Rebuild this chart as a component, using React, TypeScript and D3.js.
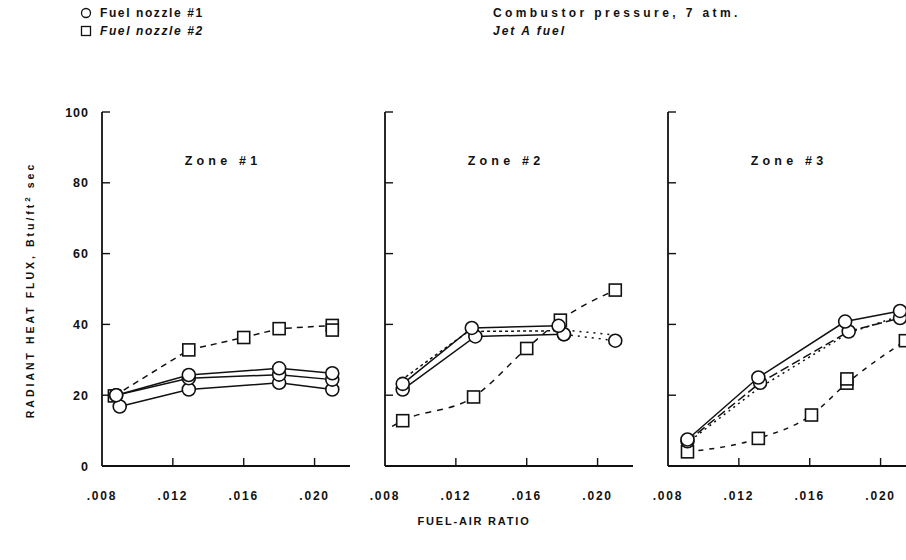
import React from "react";
import * as d3 from "d3";

// axis ticks
const xTicks = [0.008, 0.012, 0.016, 0.02];
const xTickLabels = [".008", ".012", ".016", ".020"];
const yTicks = [0, 20, 40, 60, 80, 100];

// Zone 1 — [fuel-air ratio, radiant heat flux]
const z1NozzleA = [[0.0088, 20], [0.0129, 25.7], [0.018, 27.6], [0.021, 26.2]];
const z1NozzleB = [[0.0088, 20], [0.0129, 24.8], [0.018, 25.8], [0.021, 24.4]];
const z1NozzleC = [[0.009, 16.8], [0.0129, 21.6], [0.018, 23.5], [0.021, 21.6]];
const z1Nozzle2 = [[0.0087, 19.8], [0.0129, 32.8], [0.016, 36.3], [0.018, 38.8], [0.021, 39.7]];
const z1Nozzle2Extra = [[0.021, 38.4]];

// Zone 2
const z2NozzleA = [[0.009, 23.2], [0.0129, 39], [0.0178, 39.6]];
const z2NozzleB = [[0.009, 21.6], [0.0131, 36.6], [0.0181, 37.2]];
const z2NozzleC = [[0.0089, 24.2], [0.0127, 38], [0.0179, 38.2]];
const z2NozzleAExt = [[0.0178, 38.6], [0.021, 37]];
const z2NozzleBExt = [[0.0181, 37.2], [0.021, 35.4]];
const z2Nozzle2 = [[0.0084, 11.2], [0.009, 12.8], [0.013, 19.5], [0.016, 33.2], [0.0179, 41.2], [0.021, 49.7]];

// Zone 3
const z3NozzleA = [[0.0091, 7.5], [0.0131, 25], [0.018, 40.8], [0.0211, 43.8]];
const z3NozzleB = [[0.0091, 7], [0.0132, 23.5], [0.0182, 38], [0.0211, 41.8]];
const z3NozzleC = [[0.009, 6.2], [0.0131, 21.9], [0.0182, 37.6], [0.0211, 42.4]];
const z3Nozzle2 = [[0.0091, 4], [0.0131, 7.8], [0.0161, 14.4], [0.0181, 23.4], [0.0214, 35.4]];
const z3Nozzle2Extra = [[0.0181, 24.6]];

type Pt = number[];
type Series = { pts: Pt[]; dash: string; marker: "circle" | "square" | "none"; curve?: boolean; skipFirst?: boolean };

const zones: { title: string; series: Series[]; extraSquares: Pt[] }[] = [
  {
    title: "Zone #1",
    series: [
      { pts: z1Nozzle2, dash: "6,5", marker: "square" },
      { pts: z1NozzleC, dash: "", marker: "circle" },
      { pts: z1NozzleB, dash: "", marker: "circle" },
      { pts: z1NozzleA, dash: "", marker: "circle" },
    ],
    extraSquares: z1Nozzle2Extra,
  },
  {
    title: "Zone #2",
    series: [
      { pts: z2Nozzle2, dash: "6,6", marker: "square", curve: true, skipFirst: true },
      { pts: z2NozzleAExt, dash: "2,5", marker: "none" },
      { pts: z2NozzleBExt, dash: "2,5", marker: "circle" },
      { pts: z2NozzleC, dash: "3,3", marker: "none" },
      { pts: z2NozzleB, dash: "", marker: "circle" },
      { pts: z2NozzleA, dash: "", marker: "circle" },
    ],
    extraSquares: [],
  },
  {
    title: "Zone #3",
    series: [
      { pts: z3Nozzle2, dash: "5,6", marker: "square", curve: true },
      { pts: z3NozzleC, dash: "2,4", marker: "none" },
      { pts: z3NozzleB, dash: "9,4", marker: "circle" },
      { pts: z3NozzleA, dash: "", marker: "circle" },
    ],
    extraSquares: z3Nozzle2Extra,
  },
];

const panelLeft = [102, 385, 668];
const panelW = 248;
const font = "'Liberation Sans', Arial, sans-serif";

function Marker({ x, y, kind }: { x: number; y: number; kind: string }) {
  if (kind === "circle")
    return <circle cx={x} cy={y} r={6.5} fill="#fff" stroke="#111" strokeWidth={1.6} />;
  if (kind === "square")
    return <rect x={x - 6} y={y - 6} width={12} height={12} fill="#fff" stroke="#111" strokeWidth={1.6} />;
  return null;
}

function Panel({ idx }: { idx: number }) {
  const zone = zones[idx];
  const left = panelLeft[idx];
  const x = d3.scaleLinear().domain([0.008, 0.022]).range([left, left + panelW]);
  const y = d3.scaleLinear().domain([0, 100]).range([466, 112]);
  const lineFor = (s: Series) =>
    d3
      .line<Pt>()
      .x((d) => x(d[0]))
      .y((d) => y(d[1]))
      .curve(s.curve ? d3.curveMonotoneX : d3.curveLinear)(s.pts) || "";
  return (
    <g>
      {/* axes */}
      <line x1={left} x2={left} y1={y(0)} y2={y(100)} stroke="#111" strokeWidth={1.8} />
      <line x1={left} x2={left + panelW} y1={y(0)} y2={y(0)} stroke="#111" strokeWidth={1.8} />
      {yTicks.slice(1).map((t) => (
        <line key={t} x1={left} x2={left + 8} y1={y(t)} y2={y(t)} stroke="#111" strokeWidth={1.4} />
      ))}
      {xTicks.slice(1).map((t) => (
        <line key={t} x1={x(t)} x2={x(t)} y1={y(0)} y2={y(0) - 8} stroke="#111" strokeWidth={1.4} />
      ))}
      {xTicks.map((t, i) => (
        <text key={t} x={x(t)} y={500} textAnchor="middle" fontSize={12} fontWeight="bold" letterSpacing={1.8}>
          {xTickLabels[i]}
        </text>
      ))}
      {idx === 0 &&
        yTicks.map((t) => (
          <text key={t} x={89} y={y(t) + 4.5} textAnchor="end" fontSize={12.5} fontWeight="bold" letterSpacing={1}>
            {t}
          </text>
        ))}
      <text x={left + 121} y={165} textAnchor="middle" fontSize={12.5} fontWeight="bold" letterSpacing={4.2}>
        {zone.title}
      </text>
      {/* lines */}
      {zone.series.map((s, i) => (
        <path key={i} d={lineFor(s)} fill="none" stroke="#111" strokeWidth={1.5} strokeDasharray={s.dash} />
      ))}
      {/* markers */}
      {zone.series.map((s, i) =>
        s.pts.map((p, j) =>
          s.skipFirst && j === 0 ? null : <Marker key={i + "-" + j} x={x(p[0])} y={y(p[1])} kind={s.marker} />
        )
      )}
      {zone.extraSquares.map((p, j) => (
        <Marker key={"e" + j} x={x(p[0])} y={y(p[1])} kind="square" />
      ))}
    </g>
  );
}

export default function App() {
  return (
    <div style={{ position: "absolute", left: 0, top: 0 }}>
      <svg width={906} height={560} style={{ display: "block", background: "#fff" }} fontFamily={font} fill="#111">
        {/* legend */}
        <circle cx={86} cy={13} r={4.5} fill="#fff" stroke="#111" strokeWidth={1.3} />
        <rect x={81.5} y={26.5} width={9} height={9} fill="#fff" stroke="#111" strokeWidth={1.3} />
        <text x={100} y={17} fontSize={12} fontWeight="bold" letterSpacing={1.6}>
          Fuel nozzle #1
        </text>
        <text x={100} y={35} fontSize={12} fontWeight="bold" fontStyle="italic" letterSpacing={1.6}>
          Fuel nozzle #2
        </text>
        <text x={493} y={17} fontSize={12} fontWeight="bold" letterSpacing={3.4}>
          Combustor pressure, 7 atm.
        </text>
        <text x={493} y={35} fontSize={12} fontWeight="bold" fontStyle="italic" letterSpacing={2}>
          Jet A fuel
        </text>

        {zones.map((_, i) => (
          <Panel key={i} idx={i} />
        ))}

        <text
          transform="translate(34,290) rotate(-90)"
          textAnchor="middle"
          fontSize={10.5}
          fontWeight="bold"
          letterSpacing={3}
        >
          RADIANT HEAT FLUX, Btu/ft<tspan dy={-4} fontSize={8}>2</tspan>
          <tspan dy={4}> sec</tspan>
        </text>
        <text x={474} y={525} textAnchor="middle" fontSize={11} fontWeight="bold" letterSpacing={1.8}>
          FUEL-AIR RATIO
        </text>
      </svg>
    </div>
  );
}
